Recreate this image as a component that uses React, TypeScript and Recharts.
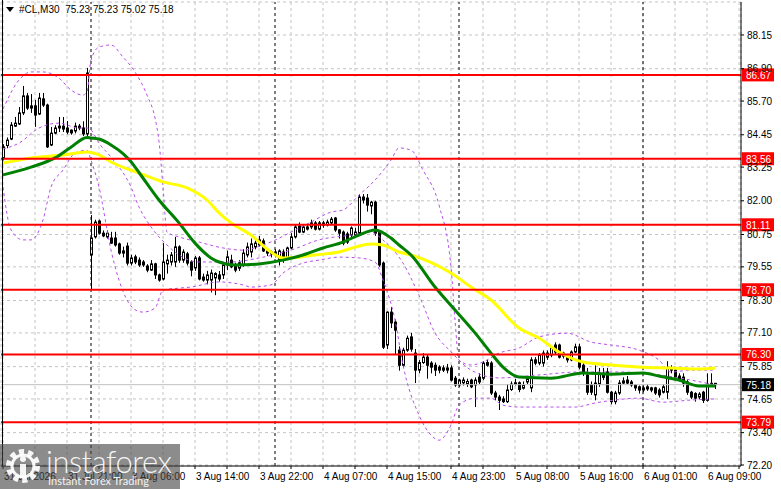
import React from 'react'
import {
  ComposedChart,
  Bar,
  Line,
  XAxis,
  YAxis,
  CartesianGrid,
  ReferenceLine,
} from 'recharts'

document.body.style.margin = '0'

// #CL, M30 candles (bar index = position on the chart)
const opens = [
  83.6, 84.05, 84.29, 84.77, 84.85, 85.26, 85.89, 85.52, 85.52, 85.22, 85.78, 85.55, 84.07, 84.51, 84.7, 84.77, 84.7, 84.62, 84.59, 84.77, 84.7, 84.48,
  79.99, 80.66, 81.25, 80.8, 80.66, 80.62, 80.62, 80.4, 80.14, 80.32, 79.69, 79.92, 79.8, 79.73, 79.58, 79.43, 79.66, 79.25, 79.1, 79.66, 79.73, 79.73,
  80.29, 79.8, 80.03, 79.73, 79.51, 79.88, 79.17, 79.06, 79.06, 79.14, 79.25, 79.25, 79.62, 79.8, 79.62, 79.5, 79.62, 79.99, 80.1, 80.29, 80.36, 80.51,
  80.14, 80.1, 80.1, 79.8, 80.1, 79.88, 80.25, 80.66, 81.06, 80.84, 80.95, 81.03, 81.18, 80.95, 81.18, 81.1, 81.18, 81.36, 80.92, 80.84, 80.77, 80.73,
  80.73, 80.8, 82.14, 82.1, 81.81, 81.95, 80.84, 79.69, 76.65, 77.87, 77.5, 76.46, 75.9, 76.46, 76.95, 76.35, 75.72, 76.0, 76.2, 75.98, 75.9, 75.83,
  75.8, 75.72, 75.8, 75.42, 75.17, 75.25, 75.2, 75.35, 75.17, 75.46, 75.42, 75.9, 75.98, 74.87, 74.72, 74.65, 74.55, 75.0, 75.2, 75.25, 75.05, 75.28,
  75.06, 76.1, 75.98, 75.98, 76.2, 76.28, 76.65, 76.65, 76.35, 76.2, 76.1, 76.39, 76.58, 75.9, 75.53, 75.17, 74.8, 75.2, 75.6, 75.65, 74.9, 74.55,
  74.87, 75.24, 75.35, 75.28, 75.17, 75.1, 74.98, 75.02, 75.06, 75.06, 74.98, 74.9, 74.9, 75.8, 75.72, 75.5, 75.46, 75.28, 74.9, 74.85, 74.72, 74.9,
  74.6, 75.15, 75.23,
]
const highs = [
  84.1, 84.35, 84.92, 85.11, 85.48, 86.26, 86.0, 85.96, 85.74, 86.0, 86.0, 85.6, 84.74, 84.8, 85.11, 85.11, 84.96, 84.65, 84.9, 84.85, 84.95, 86.93,
  81.47, 81.3, 81.3, 80.9, 80.9, 80.85, 80.85, 80.45, 80.3, 80.45, 80.0, 80.0, 79.9, 79.8, 79.65, 79.8, 79.7, 79.3, 80.43, 80.0, 80.1, 80.66,
  80.35, 80.2, 80.1, 79.8, 79.95, 79.95, 79.3, 79.4, 79.45, 79.35, 79.4, 79.7, 80.15, 80.0, 79.7, 79.8, 80.2, 80.45, 80.6, 80.6, 80.7, 80.6,
  80.2, 80.15, 80.2, 80.2, 80.2, 80.3, 80.8, 81.1, 81.2, 81.1, 81.1, 81.3, 81.25, 81.25, 81.25, 81.3, 81.4, 81.4, 80.95, 80.9, 80.85, 81.05,
  81.0, 82.25, 82.25, 82.25, 82.0, 82.0, 80.9, 79.75, 77.9, 78.06, 77.6, 76.6, 76.55, 77.0, 77.1, 76.5, 76.1, 76.35, 76.3, 76.05, 76.0, 75.9,
  75.9, 75.95, 75.9, 75.5, 75.4, 75.45, 75.4, 75.4, 75.45, 75.6, 76.05, 76.1, 76.05, 74.95, 74.8, 74.75, 75.2, 75.3, 75.4, 75.3, 75.3, 75.5,
  76.2, 76.2, 76.35, 76.45, 76.45, 76.6, 76.75, 76.7, 76.4, 76.25, 76.45, 76.7, 76.7, 76.0, 75.8, 75.3, 75.9, 75.8, 75.8, 75.8, 74.95, 74.95,
  75.35, 75.45, 75.5, 75.35, 75.2, 75.15, 75.15, 75.2, 75.1, 75.1, 75.05, 75.2, 76.05, 75.9, 75.8, 75.6, 75.6, 75.35, 74.95, 74.9, 74.9, 74.95,
  75.6, 75.6, 75.23,
]
const lows = [
  83.5, 83.95, 84.25, 84.74, 84.81, 85.18, 85.37, 85.26, 84.74, 85.18, 85.48, 83.96, 84.03, 84.47, 84.55, 84.55, 84.47, 84.45, 84.5, 84.62, 84.4, 84.4,
  78.69, 80.6, 80.75, 80.65, 80.6, 80.4, 80.3, 80.0, 79.9, 79.6, 79.6, 79.65, 79.55, 79.55, 79.35, 79.4, 79.1, 79.0, 79.05, 79.3, 79.6, 79.55,
  79.7, 79.7, 79.6, 79.2, 79.4, 79.05, 79.0, 78.9, 78.6, 78.5, 79.0, 79.1, 79.43, 79.5, 79.35, 79.4, 79.55, 79.9, 79.9, 80.2, 80.3, 80.1,
  79.95, 79.9, 79.9, 79.6, 79.7, 79.8, 80.2, 80.6, 80.8, 80.8, 80.9, 80.95, 80.9, 80.9, 81.0, 81.05, 81.1, 80.85, 80.6, 80.35, 80.4, 80.6,
  80.65, 80.7, 81.9, 81.6, 81.5, 80.7, 79.55, 76.5, 76.5, 77.28, 76.3, 75.7, 75.8, 76.4, 76.4, 75.24, 75.6, 75.95, 75.4, 75.6, 75.5, 75.6,
  75.65, 75.6, 75.3, 75.1, 75.1, 75.15, 75.1, 75.05, 74.35, 75.2, 75.35, 75.85, 74.8, 74.6, 74.24, 74.5, 74.5, 74.95, 75.15, 74.9, 75.0, 75.2,
  74.9, 75.9, 75.9, 75.85, 76.1, 76.2, 76.3, 76.15, 76.15, 76.0, 76.05, 76.35, 75.75, 75.5, 74.8, 74.8, 74.6, 75.1, 75.35, 74.85, 74.45, 74.45,
  74.8, 75.2, 75.2, 75.1, 74.95, 74.85, 74.9, 74.95, 74.9, 74.8, 74.7, 74.85, 74.65, 75.6, 75.4, 75.3, 75.1, 74.8, 74.65, 74.55, 74.65, 74.5,
  74.55, 75.1, 75.02,
]
const closes = [
  84.0, 84.25, 84.81, 84.88, 85.26, 85.89, 85.44, 85.44, 85.18, 85.81, 85.55, 84.0, 84.51, 84.7, 84.77, 84.66, 84.55, 84.52, 84.77, 84.7, 84.48, 86.74,
  80.62, 81.21, 80.8, 80.7, 80.8, 80.43, 80.36, 80.06, 80.06, 79.69, 79.88, 79.73, 79.62, 79.62, 79.43, 79.66, 79.25, 79.06, 79.73, 79.8, 79.99, 80.29,
  79.8, 80.1, 79.69, 79.43, 79.88, 79.1, 79.06, 79.25, 79.32, 79.3, 79.1, 79.62, 79.92, 79.55, 79.43, 79.7, 80.06, 80.29, 80.4, 80.43, 80.55, 80.14,
  80.06, 80.03, 79.99, 80.14, 79.8, 80.25, 80.66, 81.03, 80.84, 81.03, 81.03, 81.18, 80.95, 81.18, 81.1, 81.21, 81.32, 80.92, 80.8, 80.43, 80.47, 80.99,
  80.84, 82.14, 82.03, 81.84, 81.95, 80.8, 79.62, 76.57, 77.87, 77.47, 77.2, 75.9, 76.46, 76.9, 76.5, 75.72, 76.0, 76.2, 75.9, 75.83, 75.72, 75.72,
  75.72, 75.8, 75.35, 75.17, 75.35, 75.35, 75.3, 75.1, 75.35, 75.28, 75.98, 76.0, 74.87, 74.72, 74.6, 74.55, 74.98, 75.2, 75.25, 75.0, 75.15, 75.4,
  76.1, 75.98, 76.28, 76.35, 76.35, 76.54, 76.39, 76.2, 76.24, 76.1, 76.39, 76.58, 75.83, 75.6, 74.9, 74.9, 75.24, 75.6, 75.45, 74.9, 74.55, 74.87,
  75.24, 75.32, 75.24, 75.17, 75.06, 74.98, 75.06, 75.1, 74.98, 74.87, 74.8, 75.1, 75.8, 75.72, 75.46, 75.35, 75.24, 74.9, 74.72, 74.68, 74.83, 74.6,
  75.2, 75.23, 75.18,
]

// indicator lines, [bar index, price] read at points along each curve
const greenMA: [number, number][] = [
  [0, 82.96], [7, 83.25], [13, 83.59], [17, 83.99], [21, 84.35], [22, 84.33], [24, 84.29], [27, 84.07], [30, 83.75], [32, 83.45], [34, 83.05],
  [39, 82.03], [44, 81.18], [48, 80.43], [52, 79.88], [54, 79.73], [58, 79.62], [64, 79.66], [70, 79.8], [75, 79.99], [80, 80.25], [85, 80.47],
  [89, 80.73], [93, 80.92], [97, 80.62], [99, 80.36], [102, 79.99], [108, 78.8], [113, 77.95], [118, 77.1], [122, 76.35], [125, 75.83],
  [129, 75.46], [137, 75.42], [145, 75.61], [152, 75.57], [160, 75.61], [164, 75.5], [169, 75.35], [174, 75.13], [178, 75.13],
]
const yellowMA: [number, number][] = [
  [0, 83.4], [7, 83.59], [15, 83.7], [21, 83.81], [24, 83.7], [27, 83.44], [34, 83.03], [40, 82.7], [46, 82.48], [51, 82.03], [54, 81.55],
  [57, 81.18], [62, 80.73], [67, 80.1], [70, 79.88], [74, 79.91], [78, 79.99], [84, 80.1], [88, 80.28], [92, 80.4], [95, 80.36], [99, 80.1],
  [102, 79.99], [112, 79.32], [117, 78.8], [122, 78.32], [129, 77.28], [134, 76.91], [139, 76.39], [145, 76.02], [152, 75.91], [160, 75.83],
  [167, 75.8], [174, 75.76], [178, 75.8],
]
const bandUpper: [number, number][] = [
  [0, 85.4], [4, 86.48], [7, 86.78], [10, 86.78], [14, 86.55], [17, 86.11], [20, 85.92], [21, 86.04], [22, 87.22], [24, 87.7], [27, 87.78],
  [30, 87.33], [33, 86.78], [36, 85.92], [38, 85.07], [39, 84.2], [40, 82.5], [41, 80.84], [44, 80.66], [49, 80.47], [54, 80.28], [60, 80.17],
  [65, 80.36], [68, 80.54], [72, 80.84], [77, 81.21], [82, 81.58], [85, 81.66], [89, 82.21], [93, 82.77], [97, 83.51], [99, 83.96],
  [102, 83.88], [105, 83.14], [109, 81.84], [112, 79.54], [113, 77.58], [114, 76.09], [117, 75.91], [120, 76.02], [124, 76.35], [129, 76.54],
  [134, 76.95], [141, 77.09], [147, 76.76], [152, 76.65], [159, 76.46], [164, 76.09], [167, 75.65], [172, 75.72], [178, 75.72],
]
const bandMiddle: [number, number][] = [
  [0, 83.92], [4, 84.14], [9, 84.7], [14, 84.88], [19, 84.7], [21, 84.7], [22, 84.63], [24, 84.14], [27, 83.62], [32, 82.51], [34, 81.77],
  [37, 81.03], [41, 80.36], [44, 79.99], [49, 79.73], [57, 79.73], [64, 79.88], [72, 80.17], [79, 80.55], [87, 80.73], [92, 80.84],
  [95, 80.54], [100, 79.69], [104, 78.5], [108, 77.1], [112, 76.4], [117, 75.72], [124, 75.43], [134, 75.54], [144, 75.65], [154, 75.65],
  [164, 75.54], [178, 75.17],
]
const bandLower: [number, number][] = [
  [0, 82.51], [2, 80.92], [5, 80.55], [7, 80.55], [10, 81.29], [12, 82.51], [15, 83.14], [18, 83.77], [21, 83.88], [22, 83.51], [24, 82.51],
  [27, 80.17], [29, 79.06], [31, 78.32], [33, 77.96], [35, 77.87], [38, 78.02], [40, 78.69], [44, 78.76], [47, 78.8], [54, 78.99], [60, 78.88],
  [62, 78.8], [67, 78.88], [70, 79.32], [75, 79.69], [79, 79.8], [84, 79.91], [89, 79.88], [93, 79.73], [95, 79.06], [98, 77.58], [100, 75.91],
  [104, 74.05], [107, 73.31], [109, 73.12], [112, 73.68], [114, 74.42], [118, 74.68], [122, 74.68], [125, 74.42], [129, 74.35], [137, 74.35],
  [143, 74.35], [148, 74.5], [153, 74.61], [159, 74.68], [165, 74.53], [172, 74.61], [178, 74.65],
]

const levels = [86.67, 83.56, 81.11, 78.7, 76.3, 73.79]
const lastPrice = 75.18
const daySeparators = [22, 68, 114, 160]
const yTicks = [88.15, 86.9, 85.7, 84.45, 83.25, 82.0, 80.75, 79.55, 78.3, 77.1, 75.85, 74.65, 73.4, 72.2]
const timeLabels = [
  '31 Jul 2026', '31 Jul 21:00', '3 Aug 06:00', '3 Aug 14:00', '3 Aug 22:00', '4 Aug 07:00',
  '4 Aug 15:00', '4 Aug 23:00', '5 Aug 08:00', '5 Aug 16:00', '6 Aug 01:00', '6 Aug 09:00',
]
const slots = 185 // bars that fit on the chart incl. the empty right shift

const FONT = '"Liberation Sans", Arial, sans-serif'

const lookup = (pts: [number, number][]) => new Map(pts.map(([i, v]) => [i, v]))
const gMap = lookup(greenMA)
const yMap = lookup(yellowMA)
const uMap = lookup(bandUpper)
const mMap = lookup(bandMiddle)
const lMap = lookup(bandLower)

const rows = Array.from({ length: slots }, (_, i) => ({
  i,
  o: opens[i] ?? null,
  h: highs[i] ?? null,
  l: lows[i] ?? null,
  c: closes[i] ?? null,
  green: gMap.get(i) ?? null,
  yellow: yMap.get(i) ?? null,
  up: uMap.get(i) ?? null,
  mid: mMap.get(i) ?? null,
  low: lMap.get(i) ?? null,
}))

const gridTicks = rows.filter((r) => r.i % 8 === 0).map((r) => r.i)

function Candle(props: any) {
  const { x, y, width, height, payload } = props
  if (!payload || payload.h == null) return null
  const { o, h, l, c } = payload
  const span = h - l
  const at = (v: number) => (span > 0 ? y + ((h - v) / span) * height : y)
  const k = Math.floor(x + width / 2)
  const top = at(Math.max(o, c))
  const bot = at(Math.min(o, c))
  const bull = c >= o
  return (
    <g>
      <line x1={k + 0.5} x2={k + 0.5} y1={y} y2={y + height} stroke="#000" strokeWidth={1} />
      <rect
        x={k - 0.5}
        y={top}
        width={2}
        height={Math.max(bot - top, 0.5)}
        fill={bull ? '#fff' : '#000'}
        stroke="#000"
        strokeWidth={1}
      />
    </g>
  )
}

function TimeTick({ x, y, payload }: any) {
  const idx = payload.value as number
  if (idx % 16 !== 0) return null
  const text = timeLabels[idx / 16]
  if (!text) return null
  return (
    <text x={x + 1} y={y + 9} fontSize={10} fontFamily={FONT} fill="#000" textAnchor="start">
      {text}
    </text>
  )
}

function PriceTag({ viewBox, value, bg }: any) {
  if (!viewBox) return null
  const x0 = viewBox.x + viewBox.width + 1
  const y0 = viewBox.y
  return (
    <g>
      <rect x={x0} y={y0 - 6.5} width={32} height={13} fill={bg} />
      <text x={x0 + 4} y={y0 + 4} fontSize={10} fontFamily={FONT} fill="#fff">
        {value.toFixed(2)}
      </text>
    </g>
  )
}

function Watermark() {
  return (
    <div
      style={{
        position: 'absolute',
        left: 0,
        top: 444,
        width: 180,
        height: 45,
        background: 'rgba(70,70,70,0.62)',
        color: 'rgba(255,255,255,0.92)',
        fontFamily: 'Lato, "Open Sans", sans-serif',
      }}
    >
      <svg width={40} height={40} style={{ position: 'absolute', left: 4, top: 3 }}>
        <circle cx={19} cy={19} r={14} fill="none" stroke="rgba(255,255,255,0.92)" strokeWidth={6} strokeDasharray="5 3.8" />
        <circle cx={19} cy={19} r={11} fill="none" stroke="rgba(255,255,255,0.92)" strokeWidth={3} />
        <circle cx={19} cy={12} r={3} fill="rgba(255,255,255,0.92)" />
        <rect x={16} y={17} width={6} height={14} fill="rgba(255,255,255,0.92)" />
      </svg>
      <div style={{ position: 'absolute', left: 46, top: 2, fontSize: 31, fontWeight: 300, lineHeight: '31px', letterSpacing: -0.5, whiteSpace: 'nowrap' }}>
        instaforex
      </div>
      <div style={{ position: 'absolute', left: 48, top: 31, fontSize: 11, lineHeight: '12px', whiteSpace: 'nowrap' }}>
        Instant Forex Trading
      </div>
    </div>
  )
}

export default function App() {
  return (
    <div style={{ position: 'relative', width: 781, height: 489, background: '#fff', overflow: 'hidden' }}>
      <ComposedChart width={781} height={489} data={rows} margin={{ top: 2, right: 0, bottom: 0, left: 1 }}>
        <CartesianGrid stroke="#c4c4c4" strokeDasharray="3 3" />
        <XAxis
          dataKey="i"
          type="category"
          ticks={gridTicks}
          interval={0}
          height={23}
          tickSize={3}
          tickMargin={2}
          tick={<TimeTick />}
          axisLine={{ stroke: '#000' }}
          tickLine={{ stroke: '#000' }}
        />
        <YAxis
          orientation="right"
          type="number"
          domain={[72.163, 89.374]}
          allowDataOverflow
          ticks={yTicks}
          interval={0}
          width={40}
          tickSize={3}
          tickMargin={3}
          tickFormatter={(v: number) => v.toFixed(2)}
          tick={{ fontSize: 10, fill: '#000', fontFamily: FONT }}
          axisLine={{ stroke: '#000' }}
          tickLine={{ stroke: '#000' }}
        />
        {daySeparators.map((d) => (
          <ReferenceLine key={d} x={d} stroke="#000" strokeDasharray="3 3" />
        ))}
        <ReferenceLine y={lastPrice} stroke="#c0c0c0" />
        <Bar
          dataKey={(d: any) => (d.h == null ? null : [d.l, d.h])}
          barSize={3}
          shape={(p: any) => <Candle {...p} />}
          isAnimationActive={false}
        />
        <Line dataKey="up" type="monotone" stroke="#b84ee8" strokeWidth={1} strokeDasharray="3 3" dot={false} connectNulls isAnimationActive={false} />
        <Line dataKey="mid" type="monotone" stroke="#b84ee8" strokeWidth={1} strokeDasharray="3 3" dot={false} connectNulls isAnimationActive={false} />
        <Line dataKey="low" type="monotone" stroke="#b84ee8" strokeWidth={1} strokeDasharray="3 3" dot={false} connectNulls isAnimationActive={false} />
        <Line dataKey="yellow" type="monotone" stroke="#ffff00" strokeWidth={3} dot={false} connectNulls isAnimationActive={false} />
        <Line dataKey="green" type="monotone" stroke="#008000" strokeWidth={3} dot={false} connectNulls isAnimationActive={false} />
        {levels.map((v) => (
          <ReferenceLine
            key={v}
            y={v}
            stroke="#ff0000"
            strokeWidth={2}
            label={(p: any) => <PriceTag viewBox={p.viewBox} value={v} bg="#ff0000" />}
          />
        ))}
        <ReferenceLine
          y={lastPrice}
          stroke="none"
          label={(p: any) => <PriceTag viewBox={p.viewBox} value={lastPrice} bg="#000" />}
        />
      </ComposedChart>
      <div style={{ position: 'absolute', left: 2, top: 0, width: 1, height: 466, background: '#000' }} />
      <div style={{ position: 'absolute', left: 6, top: 4, display: 'flex', alignItems: 'center', fontFamily: FONT, fontSize: 10, color: '#000' }}>
        <svg width={8} height={6} style={{ marginRight: 5 }}>
          <polygon points="0,0 8,0 4,5" fill="#000" />
        </svg>
        <span>#CL,M30&nbsp; 75.23 75.23 75.02 75.18</span>
      </div>
      <Watermark />
    </div>
  )
}
